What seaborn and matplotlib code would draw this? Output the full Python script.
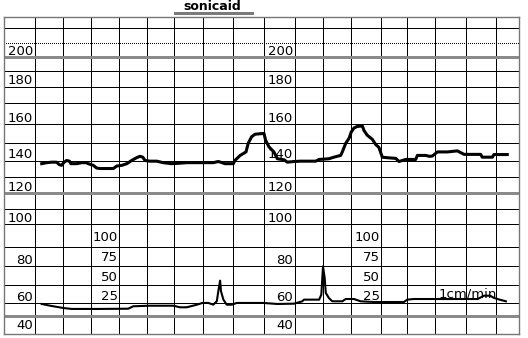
import numpy as np
import pandas as pd
import matplotlib
matplotlib.use("Agg")
import matplotlib.pyplot as plt
import seaborn as sns
from matplotlib.lines import Line2D

# ---------------- data ----------------
# Fetal heart rate trace: time in minutes, rate in bpm
fhr_min = [1.24, 1.42, 1.60, 1.77, 1.87, 1.95, 2.04, 2.13, 2.23, 2.28, 2.49, 2.67, 2.82, 2.90,
           3.08, 3.20, 3.32, 3.80, 3.92, 4.10, 4.28, 4.45, 4.63, 4.75, 4.85, 4.93, 5.11, 5.36,
           5.60, 5.91, 6.21, 6.44, 6.90, 7.34, 7.51, 7.62, 7.73, 8.01, 8.06, 8.23, 8.42, 8.49,
           8.60, 8.71, 8.98, 9.00, 9.05, 9.16, 9.32, 9.43, 9.65, 9.75, 9.97, 10.20, 10.74,
           10.86, 11.21, 11.39, 11.63, 11.69, 11.81, 11.93, 12.01, 12.10, 12.21, 12.38, 12.43,
           12.54, 12.71, 12.82, 12.93, 13.05, 13.24, 13.57, 13.69, 13.82, 13.95, 14.31, 14.37,
           14.67, 14.79, 14.90, 15.08, 15.40, 15.72, 15.94, 16.49, 16.54, 16.88, 16.93, 17.49]
fhr_bpm = [138.1, 138.7, 139.0, 139.0, 137.5, 137.1, 139.0, 140.0, 139.6, 138.1, 138.1, 138.7,
           138.7, 138.1, 137.1, 135.5, 135.2, 135.2, 136.7, 137.1, 138.1, 140.0, 141.6, 142.4,
           141.9, 140.0, 139.6, 139.6, 138.7, 138.1, 138.4, 138.7, 138.7, 138.7, 139.4, 138.8,
           138.1, 138.1, 140.0, 142.9, 144.9, 149.8, 153.2, 154.5, 154.9, 154.9, 151.5, 147.8,
           144.9, 141.0, 140.4, 139.0, 139.4, 139.6, 139.6, 140.6, 141.0, 141.9, 142.9, 144.9,
           149.8, 152.4, 155.7, 157.7, 158.5, 158.7, 156.5, 154.0, 151.9, 149.2, 147.5, 141.9,
           141.6, 141.2, 139.4, 140.0, 140.6, 140.6, 142.9, 142.9, 142.4, 142.5, 144.9, 144.9,
           145.5, 143.5, 143.5, 141.9, 141.9, 143.4, 143.4]

# Uterine contraction (toco) trace: time in minutes, pressure units
toco_min = [1.24, 1.54, 2.01, 2.31, 3.32, 4.33, 4.51, 5.11, 5.97, 6.21, 6.44, 6.79, 6.98,
            7.18, 7.34, 7.46, 7.51, 7.57, 7.60, 7.68, 7.79, 7.96, 8.12, 8.98, 9.43, 9.97,
            10.26, 10.32, 10.62, 10.86, 10.94, 11.00, 11.06, 11.10, 11.21, 11.33, 11.69,
            11.81, 12.10, 12.32, 12.77, 13.88, 14.01, 14.25, 16.39, 16.60, 16.81, 16.93,
            17.16, 17.43]
toco_val = [20.3, 18.1, 15.2, 14.0, 14.0, 14.3, 17.4, 18.1, 18.1, 16.1, 16.1, 19.4, 21.6,
            21.6, 19.4, 23.7, 36.4, 49.9, 36.4, 25.8, 19.4, 19.4, 21.6, 21.6, 20.3, 20.7,
            23.7, 25.8, 25.8, 25.8, 32.1, 68.1, 53.3, 34.3, 27.9, 23.7, 23.7, 26.6, 26.6,
            23.7, 22.8, 22.8, 25.8, 26.6, 26.6, 30.8, 30.8, 28.0, 25.8, 23.7]

fhr_labels = [200, 180, 160, 140, 120, 100, 80, 60, 40]
toco_labels = [100, 75, 50, 25]
fhr_label_cols = [1, 10]
toco_label_cols = [4, 13]
minute_lines = list(range(1, 18))
fine_lines = [220, 190, 180, 170, 160, 150, 140, 130, 110, 100, 90, 80, 70, 60]
dotted_lines = [210]
heavy_lines = [200, 120, 50]
title_text = "sonicaid"
speed_text = "1cm/min"

# ---------------- paper scales (chart paper is printed slightly unevenly) ----------------
x_knot_val = np.arange(0, 19)
x_knot_pos = np.array([4, 35, 63, 91, 119, 147, 174, 203, 233, 264, 295, 323, 351, 381,
                       407, 435, 466, 496, 519], dtype=float)
y_knot_val = np.array([40, 50, 60, 70, 80, 90, 100, 110, 120, 130, 140, 150, 160, 170,
                       180, 190, 200, 210, 220, 225], dtype=float)
y_knot_pos = -np.array([334, 315.7, 303, 285, 265.5, 246.5, 224, 208.7, 193.3, 177.2,
                        160.5, 143, 123.5, 103, 86.5, 70.5, 57.3, 42.7, 28.3, 17.3])


def xf(v):
    return np.interp(v, x_knot_val, x_knot_pos)


def xi(p):
    return np.interp(p, x_knot_pos, x_knot_val)


def yf(v):
    return np.interp(v, y_knot_val, y_knot_pos)


def yi(p):
    return np.interp(p, y_knot_pos, y_knot_val)


W, H = 528, 338
fig = plt.figure(figsize=(W / 100, H / 100), dpi=100)
fig.patch.set_facecolor("white")
ax = fig.add_axes([4 / W, 4 / H, 515 / W, (334 - 17.3) / H])
ax.set_xscale("function", functions=(xf, xi))
ax.set_yscale("function", functions=(yf, yi))
ax.set_xlim(0, 18)
ax.set_ylim(40, 225)
ax.set_xticks([])
ax.set_yticks([])
for s in ax.spines.values():
    s.set_color("#777777")
    s.set_linestyle((0, (1, 1)))
    s.set_linewidth(1.0)

px = 0.72  # one pixel in points
for m in minute_lines:
    ax.axvline(m, color="black", lw=px, zorder=1, antialiased=False)
for v in fine_lines:
    ax.axhline(v, color="black", lw=px, zorder=1, antialiased=False)
for v in dotted_lines:
    ax.axhline(v, color="black", lw=px, ls=(0, (1, 2)), zorder=1, antialiased=False)
for v in heavy_lines:
    ax.axhline(v, color="#8a8a8a", lw=3 * px, zorder=2, antialiased=False)

# FHR trace
fhr_df = pd.DataFrame({"minute": fhr_min, "bpm": fhr_bpm})
sns.lineplot(data=fhr_df, x="minute", y="bpm", ax=ax, color="black", lw=2.2,
             estimator=None, sort=False, zorder=4)
ax.set_xlabel("")
ax.set_ylabel("")

# FHR scale labels
for col in fhr_label_cols:
    for v in fhr_labels:
        dy = 5 if v == 40 else 2
        ax.annotate(str(v), xy=(col, v), xytext=(-2, dy), textcoords="offset pixels",
                    ha="right", va="baseline", fontsize=9.5, color="black", zorder=5)

# toco axis (shares time axis)
ax2 = ax.twinx()
ax2.set_ylim(-17.8, 384.1)
ax2.axis("off")
toco_df = pd.DataFrame({"minute": toco_min, "toco": toco_val})
sns.lineplot(data=toco_df, x="minute", y="toco", ax=ax2, color="black", lw=1.5,
             estimator=None, sort=False, zorder=4)
for col in toco_label_cols:
    for v in toco_labels:
        ax2.annotate(str(v), xy=(col, v), xytext=(-1, 0), textcoords="offset pixels",
                     ha="right", va="baseline", fontsize=9.5, color="black")
ax2.text(15.13, 28.0, speed_text, ha="left", va="baseline", fontsize=9.5, color="black")

# title with underline
fig.text(212.5 / W, 1 - 10 / H, title_text, ha="center", va="baseline",
         fontsize=9, fontweight="bold", color="black")
fig.add_artist(Line2D([175 / W, 252 / W], [1 - 12.8 / H, 1 - 12.8 / H],
                      transform=fig.transFigure, color="#7a7a7a", lw=2.2))

fig.savefig("out.png", dpi=100, facecolor="white")
